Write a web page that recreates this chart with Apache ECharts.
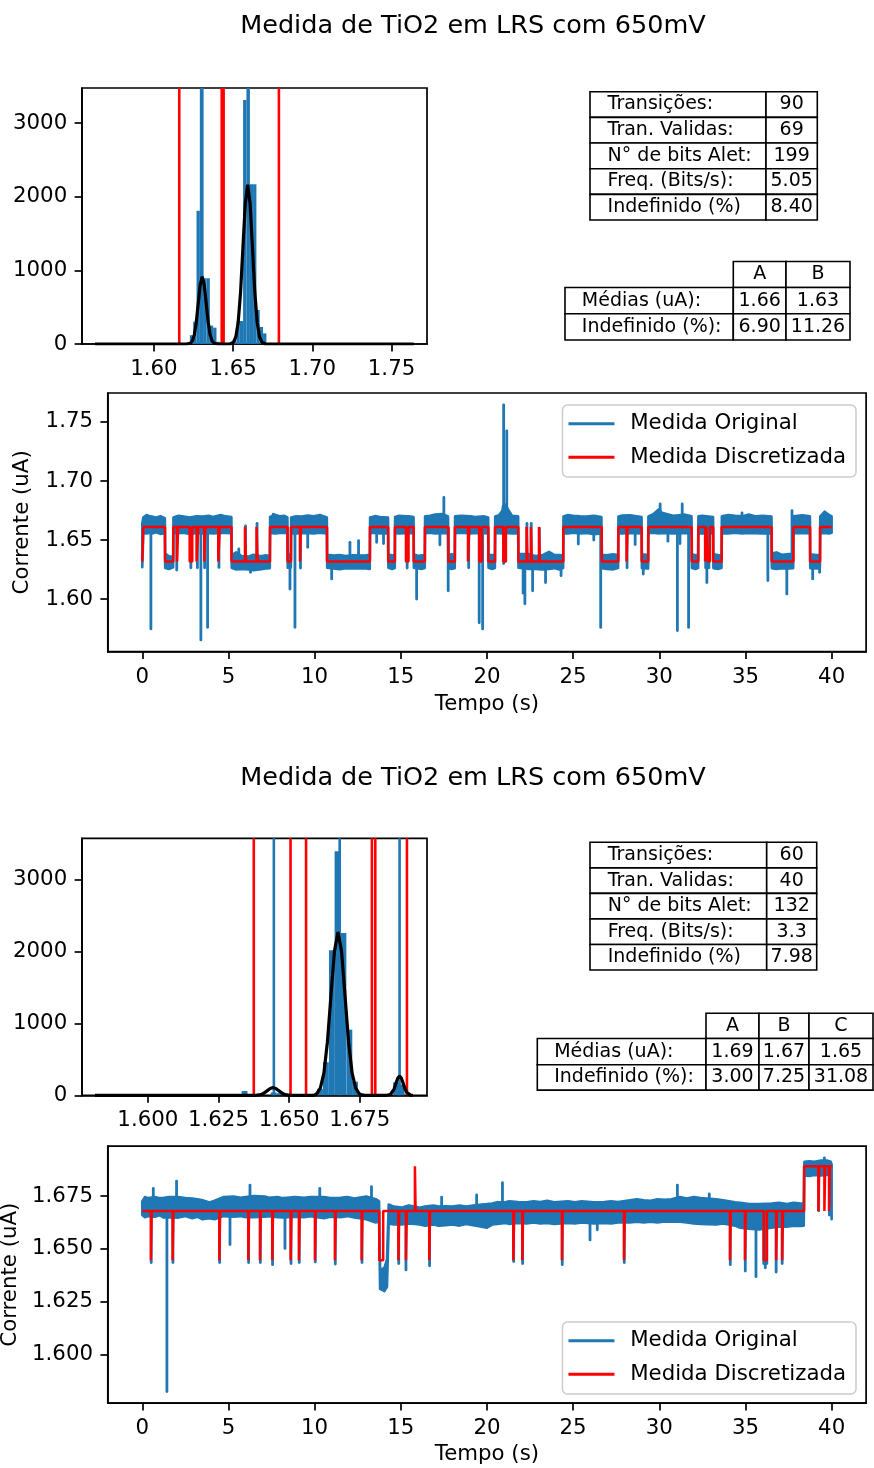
<!DOCTYPE html>
<html>
<head>
<meta charset="utf-8">
<script src="https://cdn.jsdelivr.net/npm/echarts@6.0.0/dist/echarts.min.js"></script>
<style>
html,body{margin:0;padding:0;background:#fff;}
#chart{width:874px;height:1468px;}
</style>
</head>
<body>
<div id="chart"></div>
<script>
// ---------------- DATA ----------------
const TITLE = 'Medida de TiO2 em LRS com 650mV';
const X_NAME = 'Tempo (s)';
const Y_NAME = 'Corrente (uA)';
const NAME_ORIG = 'Medida Original';
const NAME_DISC = 'Medida Discretizada';

// Histogram 1: [bin left edge, count]
const HIST1_BIN_WIDTH = 0.0021;
const HIST1_BINS = [[1.6227,120],[1.6248,303],[1.6269,1810],[1.6290,4000],[1.6311,893],[1.6332,893],[1.6353,250],[1.6374,222],[1.6395,30],
  [1.6500,40],[1.6521,312],[1.6542,312],[1.6563,3315],[1.6584,4000],[1.6605,2170],[1.6626,2170],[1.6647,462],[1.6668,231],[1.6689,145]];
const HIST1_FIT = [[1.5628,0],[1.6205,0],[1.6230,10],[1.62425,40],[1.6255,124],[1.62675,297],[1.6280,555],[1.62925,807],[1.6305,915],[1.63175,807],[1.6330,555],[1.63425,297],[1.6355,124],[1.63675,40],[1.6380,10],[1.6405,0],
  [1.6480,0],[1.6502,24],[1.6517,95],[1.6532,293],[1.6547,703],[1.6562,1313],[1.6577,1911],[1.6592,2165],[1.6607,1911],[1.6622,1313],[1.6637,703],[1.6652,293],[1.6667,95],[1.6682,24],[1.6705,0],[1.7641,0]];
const HIST1_RED = [1.6160, 1.6428, 1.6440, 1.6789];
const HIST1_BLUE = [1.6305, 1.6596];
const HIST1_XTICKS = [1.60, 1.65, 1.70, 1.75];
const HIST_YTICKS = [0, 1000, 2000, 3000];

// Histogram 2
const HIST2_BIN_WIDTH = 0.00206;
const HIST2_BINS = [[1.6332,60],[1.6435,40],[1.6456,30],[1.6599,90],[1.6620,460],[1.6641,2017],[1.6661,3394],[1.6682,2258],[1.6703,913],[1.6723,190],[1.6744,30],[1.6868,180],[1.6888,150]];
const HIST2_FIT = [[1.5813,0],[1.6373,0],[1.6383,1],[1.6393,5],[1.6403,14],[1.6413,35],[1.6423,65],[1.6433,94],[1.6443,107],[1.6453,94],[1.6463,65],[1.6473,35],[1.6483,14],[1.6493,5],[1.6503,1],[1.6513,0],
  [1.6588,0],[1.6598,25],[1.66105,100],[1.6623,307],[1.66355,738],[1.6648,1378],[1.66605,2005],[1.6673,2272],[1.66855,2005],[1.6698,1378],[1.67105,738],[1.6723,307],[1.67355,100],[1.6748,25],[1.6758,0],
  [1.6845,0],[1.6852,3],[1.68585,12],[1.6865,36],[1.68715,87],[1.6878,163],[1.68845,237],[1.6891,269],[1.68975,237],[1.6904,163],[1.69105,87],[1.6917,36],[1.69235,12],[1.6930,3],[1.6938,0]];
const HIST2_RED = [1.6375, 1.6505, 1.6560, 1.6793, 1.6805, 1.6917];
const HIST2_BLUE = [1.6446, 1.6679, 1.6891];
const HIST2_XTICKS = [1.600, 1.625, 1.650, 1.675];

// Time series ticks
const TIME_TICKS = [0, 5, 10, 15, 20, 25, 30, 35, 40];
const TS1_YTICKS = [1.60, 1.65, 1.70, 1.75];
const TS2_YTICKS = [1.600, 1.625, 1.650, 1.675];

// Time series 1 original measurement: noise band [t, low, high]
const BAND1 = [
[0.00,1.6270,1.6640],[0.06,1.6560,1.6690],[0.25,1.6555,1.6712],[0.45,1.6562,1.6700],[0.56,1.6555,1.6698],[0.80,1.6565,1.6688],[1.05,1.6552,1.6702],[1.31,1.6558,1.6685],
[1.33,1.6262,1.6385],[1.55,1.6255,1.6362],[1.79,1.6268,1.6358],[1.81,1.6560,1.6690],[2.10,1.6558,1.6705],[2.40,1.6562,1.6698],[2.75,1.6550,1.6690],[3.15,1.6560,1.6700],[3.50,1.6555,1.6698],
[3.86,1.6560,1.6705],[4.10,1.6555,1.6695],[4.55,1.6560,1.6712],[4.85,1.6562,1.6700],[5.17,1.6555,1.6695],
[5.19,1.6265,1.6370],[5.45,1.6250,1.6395],[5.75,1.6255,1.6365],[6.20,1.6250,1.6360],[6.45,1.6245,1.6375],[6.90,1.6252,1.6362],[7.15,1.6258,1.6370],[7.40,1.6262,1.6365],
[7.42,1.6560,1.6695],[7.70,1.6555,1.6715],[8.00,1.6560,1.6700],[8.25,1.6562,1.6705],[8.42,1.6555,1.6692],
[8.44,1.6265,1.6380],[8.62,1.6268,1.6375],
[8.64,1.6558,1.6690],[8.93,1.6556,1.6700],[9.25,1.6558,1.6698],[9.60,1.6560,1.6708],[9.95,1.6555,1.6700],[10.30,1.6562,1.6712],[10.71,1.6555,1.6690],
[10.73,1.6265,1.6375],[11.10,1.6258,1.6368],[11.45,1.6252,1.6372],[11.80,1.6262,1.6365],[12.20,1.6258,1.6370],[12.90,1.6262,1.6368],[13.20,1.6255,1.6375],
[13.22,1.6558,1.6690],[13.50,1.6562,1.6702],[13.80,1.6555,1.6695],[14.26,1.6556,1.6690],
[14.28,1.6265,1.6380],[14.50,1.6255,1.6368],[14.65,1.6262,1.6372],
[14.67,1.6560,1.6695],[14.90,1.6555,1.6705],[15.29,1.6558,1.6700],[15.46,1.6560,1.6700],[15.74,1.6555,1.6695],
[15.76,1.6265,1.6380],[16.00,1.6260,1.6365],[16.20,1.6255,1.6370],[16.39,1.6262,1.6368],
[16.41,1.6558,1.6700],[16.70,1.6562,1.6705],[17.00,1.6555,1.6715],[17.40,1.6560,1.6720],[17.74,1.6555,1.6700],
[17.77,1.6262,1.6375],[17.95,1.6255,1.6380],[18.13,1.6260,1.6372],
[18.15,1.6558,1.6700],[18.50,1.6562,1.6705],[19.05,1.6555,1.6700],[19.30,1.6560,1.6695],[19.85,1.6558,1.6700],[20.07,1.6555,1.6690],
[20.09,1.6265,1.6378],[20.30,1.6255,1.6370],[20.46,1.6262,1.6375],
[20.48,1.6560,1.6700],[20.70,1.6558,1.6710],[20.90,1.6555,1.6750],[20.94,1.6555,1.6790],[21.08,1.6555,1.6800],[21.22,1.6560,1.6760],[21.45,1.6555,1.6705],[21.81,1.6558,1.6700],
[21.83,1.6265,1.6380],[22.45,1.6255,1.6380],[22.80,1.6255,1.6365],[23.20,1.6250,1.6370],[23.60,1.6255,1.6400],[23.90,1.6262,1.6375],[24.20,1.6250,1.6372],[24.42,1.6262,1.6368],
[24.44,1.6558,1.6700],[24.70,1.6555,1.6712],[25.00,1.6562,1.6705],[25.40,1.6555,1.6700],[25.80,1.6560,1.6698],[26.20,1.6550,1.6705],[26.64,1.6556,1.6695],
[26.67,1.6262,1.6375],[26.95,1.6255,1.6370],[27.30,1.6250,1.6378],[27.61,1.6262,1.6372],
[27.63,1.6558,1.6700],[27.85,1.6555,1.6708],[28.30,1.6560,1.6710],[28.97,1.6555,1.6695],
[28.99,1.6262,1.6378],[29.35,1.6258,1.6372],
[29.37,1.6558,1.6700],[29.65,1.6562,1.6718],[29.98,1.6555,1.6760],[30.15,1.6560,1.6730],[30.80,1.6555,1.6705],[31.15,1.6558,1.6710],[31.45,1.6560,1.6715],[31.87,1.6555,1.6700],
[31.89,1.6262,1.6380],[32.10,1.6255,1.6370],[32.25,1.6262,1.6375],
[32.27,1.6558,1.6700],[32.50,1.6555,1.6705],[33.12,1.6556,1.6695],
[33.14,1.6262,1.6380],[33.40,1.6255,1.6372],[33.61,1.6262,1.6370],
[33.63,1.6558,1.6700],[34.00,1.6555,1.6712],[34.40,1.6562,1.6705],[34.80,1.6555,1.6700],[35.20,1.6560,1.6715],[35.60,1.6558,1.6700],[36.00,1.6555,1.6705],[36.51,1.6556,1.6698],
[36.53,1.6262,1.6385],[36.80,1.6255,1.6395],[37.10,1.6262,1.6375],[37.55,1.6258,1.6380],[37.77,1.6262,1.6378],
[37.79,1.6558,1.6700],[38.30,1.6560,1.6710],[38.74,1.6555,1.6700],
[38.76,1.6262,1.6380],[39.10,1.6258,1.6372],[39.32,1.6262,1.6375],
[39.34,1.6558,1.6700],[39.60,1.6560,1.6740],[39.85,1.6555,1.6712],[40.00,1.6562,1.6700]
];
// Time series 1 original measurement: narrow excursions [t, low, high]
const SPIKES1 = [
[0.50,1.5747,1.6600],[2.00,1.6245,1.6600],[2.82,1.6265,1.6600],[3.20,1.6265,1.6600],[3.40,1.5654,1.6600],[3.62,1.6265,1.6600],[3.79,1.5761,1.6600],[4.45,1.6268,1.6600],
[5.60,1.6300,1.6424],[5.99,1.6300,1.6620],[6.28,1.6226,1.6300],[6.66,1.6300,1.6640],[7.60,1.6600,1.6720],[8.57,1.6085,1.6330],[8.86,1.5761,1.6600],[9.18,1.6262,1.6600],[9.60,1.6438,1.6600],
[10.99,1.6170,1.6300],[12.05,1.6300,1.6480],[12.55,1.6300,1.6494],[13.60,1.6480,1.6600],[14.00,1.6470,1.6600],[15.37,1.6262,1.6600],[15.92,1.6000,1.6300],[17.27,1.6460,1.6600],[17.50,1.6620,1.6860],
[17.75,1.6070,1.6600],[18.94,1.6265,1.6600],[19.55,1.5800,1.6600],[19.75,1.5747,1.6600],[20.97,1.6300,1.7645],[21.15,1.6600,1.7425],[22.10,1.6050,1.6300],[22.20,1.5960,1.6300],[22.32,1.6300,1.6640],
[22.57,1.6300,1.6640],[22.65,1.6070,1.6300],[23.04,1.6300,1.6600],[23.40,1.6140,1.6300],[24.30,1.6198,1.6300],[25.30,1.6466,1.6600],[26.20,1.6500,1.6600],[26.60,1.5760,1.6600],[28.13,1.6265,1.6600],
[28.60,1.6462,1.6600],[29.07,1.6212,1.6300],[30.05,1.6620,1.6805],[30.50,1.6490,1.6600],[31.05,1.5733,1.6600],[31.20,1.6470,1.6600],[31.33,1.6620,1.6805],[31.70,1.5760,1.6600],[32.69,1.6265,1.6600],
[32.76,1.6140,1.6600],[32.88,1.6265,1.6600],[34.80,1.6600,1.6730],[36.30,1.6156,1.6600],[37.40,1.6043,1.6300],[37.70,1.6300,1.6748],[38.90,1.6170,1.6300],[39.30,1.6226,1.6300]
];
// Time series 1 discretized measurement: [t, level] (level held until next t)
const RED1 = [
[0.00,1.6318],[0.06,1.6610],[1.32,1.6318],[1.80,1.6610],[2.02,1.6318],[2.08,1.6610],[2.75,1.6318],[2.90,1.6610],[3.15,1.6318],[3.25,1.6610],[3.60,1.6318],[3.66,1.6610],
[4.41,1.6318],[4.50,1.6610],[5.18,1.6318],[5.96,1.6610],[6.02,1.6318],[6.63,1.6610],[6.69,1.6318],[7.41,1.6610],[8.43,1.6318],[8.63,1.6610],[9.15,1.6318],[9.21,1.6610],
[10.72,1.6318],[13.21,1.6610],[14.27,1.6318],[14.66,1.6610],[15.30,1.6318],[15.45,1.6610],[15.75,1.6318],[16.40,1.6610],[17.76,1.6318],[18.14,1.6610],[18.90,1.6318],[18.98,1.6610],
[19.55,1.6318],[19.70,1.6610],[20.08,1.6318],[20.47,1.6610],[20.95,1.6318],[21.10,1.6610],[21.82,1.6318],[22.30,1.6610],[22.35,1.6318],[22.55,1.6610],[22.60,1.6318],[23.02,1.6610],
[23.07,1.6318],[24.43,1.6610],[26.66,1.6318],[27.62,1.6610],[28.10,1.6318],[28.16,1.6610],[28.98,1.6318],[29.36,1.6610],[31.88,1.6318],[32.26,1.6610],[32.66,1.6318],[32.72,1.6610],
[32.82,1.6318],[32.94,1.6610],[33.13,1.6318],[33.62,1.6610],[36.52,1.6318],[37.78,1.6610],[38.75,1.6318],[39.33,1.6610],[40.00,1.6610]
];

// Time series 2 original measurement: noise band [t, low, high]
const BAND2 = [
[0.00,1.6660,1.6725],[0.15,1.6650,1.6745],[0.35,1.6655,1.6740],[0.75,1.6652,1.6745],[1.00,1.6660,1.6740],[1.25,1.6648,1.6742],[1.55,1.6650,1.6745],[2.10,1.6648,1.6745],[2.50,1.6655,1.6740],
[2.90,1.6645,1.6738],[3.20,1.6652,1.6735],[3.50,1.6640,1.6730],[3.90,1.6645,1.6720],[4.20,1.6640,1.6728],[4.70,1.6655,1.6745],[5.30,1.6652,1.6748],[5.70,1.6655,1.6742],[6.00,1.6650,1.6745],
[6.50,1.6650,1.6750],[7.10,1.6652,1.6748],[7.35,1.6655,1.6742],[7.85,1.6650,1.6745],[8.15,1.6648,1.6740],[8.40,1.6650,1.6742],[8.85,1.6652,1.6745],[9.40,1.6650,1.6742],[9.75,1.6655,1.6745],
[10.55,1.6645,1.6745],[10.90,1.6652,1.6740],[11.50,1.6650,1.6742],[11.90,1.6655,1.6745],[12.30,1.6648,1.6738],[13.00,1.6640,1.6748],[13.55,1.6625,1.6735],[13.74,1.6630,1.6725],
[13.80,1.6310,1.6400],[14.05,1.6300,1.6410],[14.20,1.6320,1.6450],[14.30,1.6620,1.6710],[14.60,1.6615,1.6700],[15.05,1.6615,1.6695],[15.45,1.6620,1.6705],[15.82,1.6618,1.6700],[16.10,1.6615,1.6695],
[16.40,1.6610,1.6700],[16.90,1.6615,1.6705],[17.20,1.6610,1.6700],[17.60,1.6612,1.6702],[18.00,1.6615,1.6700],[18.40,1.6610,1.6705],[18.80,1.6618,1.6700],[19.20,1.6612,1.6705],[19.70,1.6605,1.6710],
[20.00,1.6600,1.6712],[20.30,1.6615,1.6715],[20.60,1.6618,1.6720],[21.10,1.6622,1.6722],[21.30,1.6618,1.6725],[21.80,1.6622,1.6722],[22.30,1.6620,1.6720],[22.70,1.6625,1.6725],[23.10,1.6620,1.6722],
[23.50,1.6622,1.6728],[23.90,1.6618,1.6720],[24.70,1.6622,1.6725],[25.10,1.6620,1.6720],[25.50,1.6625,1.6725],[26.20,1.6620,1.6720],[26.80,1.6622,1.6722],[27.20,1.6620,1.6725],[27.60,1.6625,1.6722],
[28.30,1.6625,1.6730],[28.70,1.6628,1.6735],[29.10,1.6625,1.6730],[29.50,1.6628,1.6728],[29.90,1.6625,1.6735],[30.30,1.6630,1.6732],[30.70,1.6628,1.6735],[31.20,1.6628,1.6745],[31.60,1.6625,1.6738],
[32.00,1.6620,1.6745],[32.40,1.6618,1.6740],[33.30,1.6615,1.6735],[33.70,1.6620,1.6730],[34.40,1.6610,1.6720],[34.70,1.6600,1.6718],[35.20,1.6595,1.6712],[35.80,1.6592,1.6712],[36.50,1.6600,1.6715],
[36.95,1.6605,1.6718],[37.40,1.6605,1.6712],[37.80,1.6610,1.6718],[38.20,1.6608,1.6715],[38.38,1.6610,1.6712],
[38.42,1.6848,1.6912],[38.70,1.6845,1.6915],[39.00,1.6850,1.6912],[39.40,1.6848,1.6918],[39.72,1.6850,1.6918],[39.95,1.6850,1.6912],[40.00,1.6640,1.6900]
];
// Time series 2 original measurement: narrow excursions [t, low, high]
const SPIKES2 = [
[0.52,1.6435,1.6680],[0.64,1.6740,1.6786],[1.43,1.5824,1.6680],[1.78,1.6435,1.6680],[1.99,1.6740,1.6821],[4.49,1.6435,1.6680],[5.09,1.6520,1.6680],[6.17,1.6435,1.6680],[6.25,1.6740,1.6802],
[6.85,1.6435,1.6680],[7.56,1.6425,1.6680],[8.28,1.6502,1.6680],[8.63,1.6430,1.6680],[9.11,1.6435,1.6680],[10.04,1.6438,1.6680],[10.30,1.6740,1.6786],[11.20,1.6428,1.6680],[12.75,1.6435,1.6680],
[13.30,1.6730,1.6794],[14.88,1.6430,1.6680],[15.30,1.6400,1.6680],[16.67,1.6420,1.6680],[17.37,1.6700,1.6745],[19.40,1.6700,1.6755],[20.90,1.6700,1.6813],[21.55,1.6440,1.6680],[22.07,1.6430,1.6680],
[24.37,1.6425,1.6680],[25.98,1.6542,1.6680],[26.40,1.6590,1.6680],[27.97,1.6435,1.6680],[31.05,1.6730,1.6802],[32.90,1.6730,1.6760],[34.12,1.6425,1.6680],[34.99,1.6395,1.6680],[35.61,1.6368,1.6680],
[36.06,1.6430,1.6680],[36.15,1.6410,1.6680],[36.24,1.6430,1.6680],[36.78,1.6390,1.6680],[37.13,1.6430,1.6680],[39.25,1.6680,1.6900],[39.58,1.6880,1.6931],[39.87,1.6660,1.6900]
];
// Time series 2 discretized measurement: [t, level]
const RED2 = [
[0.00,1.6679],[0.50,1.6446],[0.55,1.6679],[1.76,1.6446],[1.81,1.6679],[4.47,1.6446],[4.52,1.6679],[6.15,1.6446],[6.20,1.6679],[6.83,1.6446],[6.88,1.6679],[7.54,1.6446],[7.59,1.6679],
[8.61,1.6446],[8.66,1.6679],[9.09,1.6446],[9.14,1.6679],[10.02,1.6446],[10.07,1.6679],[11.18,1.6446],[11.23,1.6679],[12.73,1.6446],[12.78,1.6679],[13.75,1.6446],[13.98,1.6679],
[14.86,1.6446],[14.91,1.6679],[15.30,1.6446],[15.35,1.6679],[15.82,1.6891],[15.86,1.6679],[16.65,1.6446],[16.70,1.6679],[21.53,1.6446],[21.58,1.6679],[22.05,1.6446],[22.10,1.6679],
[24.35,1.6446],[24.40,1.6679],[27.95,1.6446],[28.00,1.6679],[34.10,1.6446],[34.15,1.6679],[34.97,1.6446],[35.02,1.6679],[36.06,1.6446],[36.24,1.6679],[36.78,1.6446],[36.83,1.6679],
[37.13,1.6446],[37.18,1.6679],[38.40,1.6891],[39.23,1.6679],[39.28,1.6891],[39.58,1.6679],[39.63,1.6891],[39.85,1.6679],[39.90,1.6891],[40.00,1.6891]
];

// Tables
const STATS_LABELS = ['Transições:', 'Tran. Validas:', 'N° de bits Alet:', 'Freq. (Bits/s):', 'Indefinido (%)'];
const STATS_1 = ['90', '69', '199', '5.05', '8.40'];
const STATS_2 = ['60', '40', '132', '3.3', '7.98'];
const LEVEL_ROW_LABELS = ['Médias (uA):', 'Indefinido (%):'];
const LEVELS_1 = ['A', 'B'];
const MEANS_1 = ['1.66', '1.63'];
const UNDEF_1 = ['6.90', '11.26'];
const LEVELS_2 = ['A', 'B', 'C'];
const MEANS_2 = ['1.69', '1.67', '1.65'];
const UNDEF_2 = ['3.00', '7.25', '31.08'];

// ---------------- STYLE / LAYOUT ----------------
const FONT = 'DejaVu Sans';
const FS = 21.3;
const BLUE = '#1f77b4';
const RED = '#ff0000';

function valueAxis(gridIndex, min, max, ticks, dec, extra) {
  return Object.assign({
    type: 'value', gridIndex: gridIndex, min: min, max: max,
    axisLine: { show: true, onZero: false, lineStyle: { color: '#000', width: 1.7 } },
    axisTick: { show: true, inside: false, length: 7.4, customValues: ticks, lineStyle: { color: '#000', width: 1.7 } },
    axisLabel: { show: true, customValues: ticks, formatter: function (v) { return Number(v).toFixed(dec); },
      color: '#000', fontSize: FS, fontFamily: FONT, margin: 14.8 },
    splitLine: { show: false },
    nameTextStyle: { color: '#000', fontSize: FS, fontFamily: FONT }
  }, extra || {});
}

function barRenderer(width) {
  return function (params, api) {
    const left = api.value(0), count = api.value(1);
    const p0 = api.coord([left, count]);
    const p1 = api.coord([left + width, 0]);
    const cs = params.coordSys;
    const rect = echarts.graphic.clipRectByRect(
      { x: p0[0], y: p0[1], width: p1[0] - p0[0], height: p1[1] - p0[1] },
      { x: cs.x, y: cs.y, width: cs.width, height: cs.height });
    if (!rect) return null;
    return { type: 'rect', shape: rect, style: { fill: BLUE } };
  };
}

function vlineRenderer(color) {
  return function (params, api) {
    const x = api.coord([api.value(0), 0])[0];
    const cs = params.coordSys;
    return { type: 'line', shape: { x1: x, y1: cs.y, x2: x, y2: cs.y + cs.height },
      style: { stroke: color, lineWidth: 2.6 } };
  };
}

function bandRenderer(arr) {
  return function (params, api) {
    if (params.dataIndex !== 0) return null;
    const up = arr.map(function (d) { return api.coord([d[0], d[2]]); });
    const dn = arr.slice().reverse().map(function (d) { return api.coord([d[0], d[1]]); });
    return { type: 'polygon', shape: { points: up.concat(dn) },
      style: { fill: BLUE, stroke: BLUE, lineWidth: 2.6, lineJoin: 'round' } };
  };
}

function spikeRenderer(params, api) {
  const p1 = api.coord([api.value(0), api.value(1)]);
  const p2 = api.coord([api.value(0), api.value(2)]);
  return { type: 'line', shape: { x1: p1[0], y1: p1[1], x2: p2[0], y2: p2[1] },
    style: { stroke: BLUE, lineWidth: 2.8, lineCap: 'round' } };
}

function vlineSeries(axisIdx, values, color, z) {
  return { type: 'custom', xAxisIndex: axisIdx, yAxisIndex: axisIdx,
    data: values.map(function (v) { return [v, 0]; }), encode: { x: 0, y: 1 },
    renderItem: vlineRenderer(color), silent: true, z: z };
}

function histSeries(axisIdx, bins, width, fit, reds, blues) {
  return [
    { type: 'custom', xAxisIndex: axisIdx, yAxisIndex: axisIdx, data: bins, encode: { x: 0, y: 1 },
      renderItem: barRenderer(width), silent: true, z: 2 },
    vlineSeries(axisIdx, blues, BLUE, 3),
    vlineSeries(axisIdx, reds, RED, 4),
    { type: 'line', xAxisIndex: axisIdx, yAxisIndex: axisIdx, data: fit, symbol: 'none', silent: true,
      lineStyle: { color: '#000', width: 3.2 }, z: 5 }
  ];
}

function tsSeries(axisIdx, band, spikes, red) {
  return [
    { type: 'custom', name: NAME_ORIG, xAxisIndex: axisIdx, yAxisIndex: axisIdx, data: band,
      dimensions: ['t', 'lo', 'hi'], encode: { x: 0, y: [1, 2] }, renderItem: bandRenderer(band),
      itemStyle: { color: BLUE }, silent: true, clip: true, z: 2 },
    { type: 'custom', name: NAME_ORIG, xAxisIndex: axisIdx, yAxisIndex: axisIdx, data: spikes,
      dimensions: ['t', 'lo', 'hi'], encode: { x: 0, y: [1, 2] }, renderItem: spikeRenderer,
      itemStyle: { color: BLUE }, silent: true, clip: true, z: 2 },
    { type: 'line', name: NAME_DISC, xAxisIndex: axisIdx, yAxisIndex: axisIdx, data: red, step: 'end',
      symbol: 'none', silent: true, lineStyle: { color: RED, width: 2.5 }, itemStyle: { color: RED }, z: 3 }
  ];
}

function legendCfg(top) {
  return { data: [{ name: NAME_ORIG, icon: 'rect' }, { name: NAME_DISC, icon: 'rect' }],
    orient: 'vertical', right: 18, top: top, itemWidth: 46, itemHeight: 3, itemGap: 10,
    padding: [7, 10, 8, 6], backgroundColor: 'rgba(255,255,255,0.8)', borderColor: '#cccccc',
    borderWidth: 1.5, borderRadius: 5, selectedMode: false, z: 10,
    textStyle: { fontSize: FS, fontFamily: FONT, color: '#000', lineHeight: 23.5, padding: [0, 0, 0, 10.7] } };
}

// table drawing (graphic elements)
function tableElements(x0, colW, y0, rowH, rows) {
  const els = [];
  let y = y0;
  rows.forEach(function (row, r) {
    let x = x0;
    row.forEach(function (cell, c) {
      const w = colW[c], h = rowH[r];
      if (cell !== null) {
        els.push({ type: 'rect', shape: { x: x, y: y, width: w, height: h },
          style: { fill: '#fff', stroke: '#000', lineWidth: 1.6 } });
        const left = (c === 0);
        els.push({ type: 'text', x: left ? x + 0.1 * w : x + w / 2, y: y + h / 2,
          style: { text: cell, fill: '#000', fontSize: 19, fontFamily: FONT,
            align: left ? 'left' : 'center', verticalAlign: 'middle' } });
      }
      x += w;
    });
    y += rowH[r];
  });
  return els;
}

const graphics = [
  { type: 'text', x: 473, y: 26, style: { text: TITLE, fill: '#000', fontSize: 25.5, fontFamily: FONT, align: 'center', verticalAlign: 'middle' } },
  { type: 'text', x: 473, y: 778, style: { text: TITLE, fill: '#000', fontSize: 25.5, fontFamily: FONT, align: 'center', verticalAlign: 'middle' } }
]
.concat(tableElements(590, [176, 51.3], 91.7, [25.66, 25.66, 25.66, 25.66, 25.66],
  STATS_LABELS.map(function (l, i) { return [l, STATS_1[i]]; })))
.concat(tableElements(565, [168.3, 52.7, 64], 261.5, [26, 26.3, 26.2],
  [[null].concat(LEVELS_1), [LEVEL_ROW_LABELS[0]].concat(MEANS_1), [LEVEL_ROW_LABELS[1]].concat(UNDEF_1)]))
.concat(tableElements(590, [176.7, 50], 842.3, [25.54, 25.54, 25.54, 25.54, 25.54],
  STATS_LABELS.map(function (l, i) { return [l, STATS_2[i]]; })))
.concat(tableElements(537.3, [168.7, 53, 50, 64], 1013.3, [25.2, 26.3, 25.3],
  [[null].concat(LEVELS_2), [LEVEL_ROW_LABELS[0]].concat(MEANS_2), [LEVEL_ROW_LABELS[1]].concat(UNDEF_2)]));

function gridCfg(left, top, width, height) {
  return { left: left, top: top, width: width, height: height, show: true, borderColor: '#000', borderWidth: 1.7,
    backgroundColor: 'transparent', containLabel: false, outerBoundsMode: 'none' };
}

const option = {
  animation: false,
  backgroundColor: '#fff',
  grid: [
    gridCfg(82, 88, 345, 256),
    gridCfg(82, 838.3, 345, 257),
    gridCfg(107.8, 393, 758.3, 258.7),
    gridCfg(107.8, 1146.2, 758.3, 257)
  ],
  xAxis: [
    valueAxis(0, 1.5546, 1.7724, HIST1_XTICKS, 2),
    valueAxis(1, 1.5767, 1.6988, HIST2_XTICKS, 3),
    valueAxis(2, -2, 42, TIME_TICKS, 0, { name: X_NAME, nameLocation: 'middle', nameGap: 42 }),
    valueAxis(3, -2, 42, TIME_TICKS, 0, { name: X_NAME, nameLocation: 'middle', nameGap: 41 })
  ],
  yAxis: [
    valueAxis(0, 0, 3478, HIST_YTICKS, 0),
    valueAxis(1, 0, 3574, HIST_YTICKS, 0),
    valueAxis(2, 1.5554, 1.7745, TS1_YTICKS, 2, { name: Y_NAME, nameLocation: 'middle', nameGap: 75 }),
    valueAxis(3, 1.5769, 1.6986, TS2_YTICKS, 3, { name: Y_NAME, nameLocation: 'middle', nameGap: 86 })
  ],
  legend: [legendCfg(405), legendCfg(1322)],
  graphic: graphics,
  series: []
    .concat(histSeries(0, HIST1_BINS, HIST1_BIN_WIDTH, HIST1_FIT, HIST1_RED, HIST1_BLUE))
    .concat(histSeries(1, HIST2_BINS, HIST2_BIN_WIDTH, HIST2_FIT, HIST2_RED, HIST2_BLUE))
    .concat(tsSeries(2, BAND1, SPIKES1, RED1))
    .concat(tsSeries(3, BAND2, SPIKES2, RED2))
};

const chart = echarts.init(document.getElementById('chart'), null, { renderer: 'canvas', width: 874, height: 1468 });
chart.setOption(option);
</script>
</body>
</html>
